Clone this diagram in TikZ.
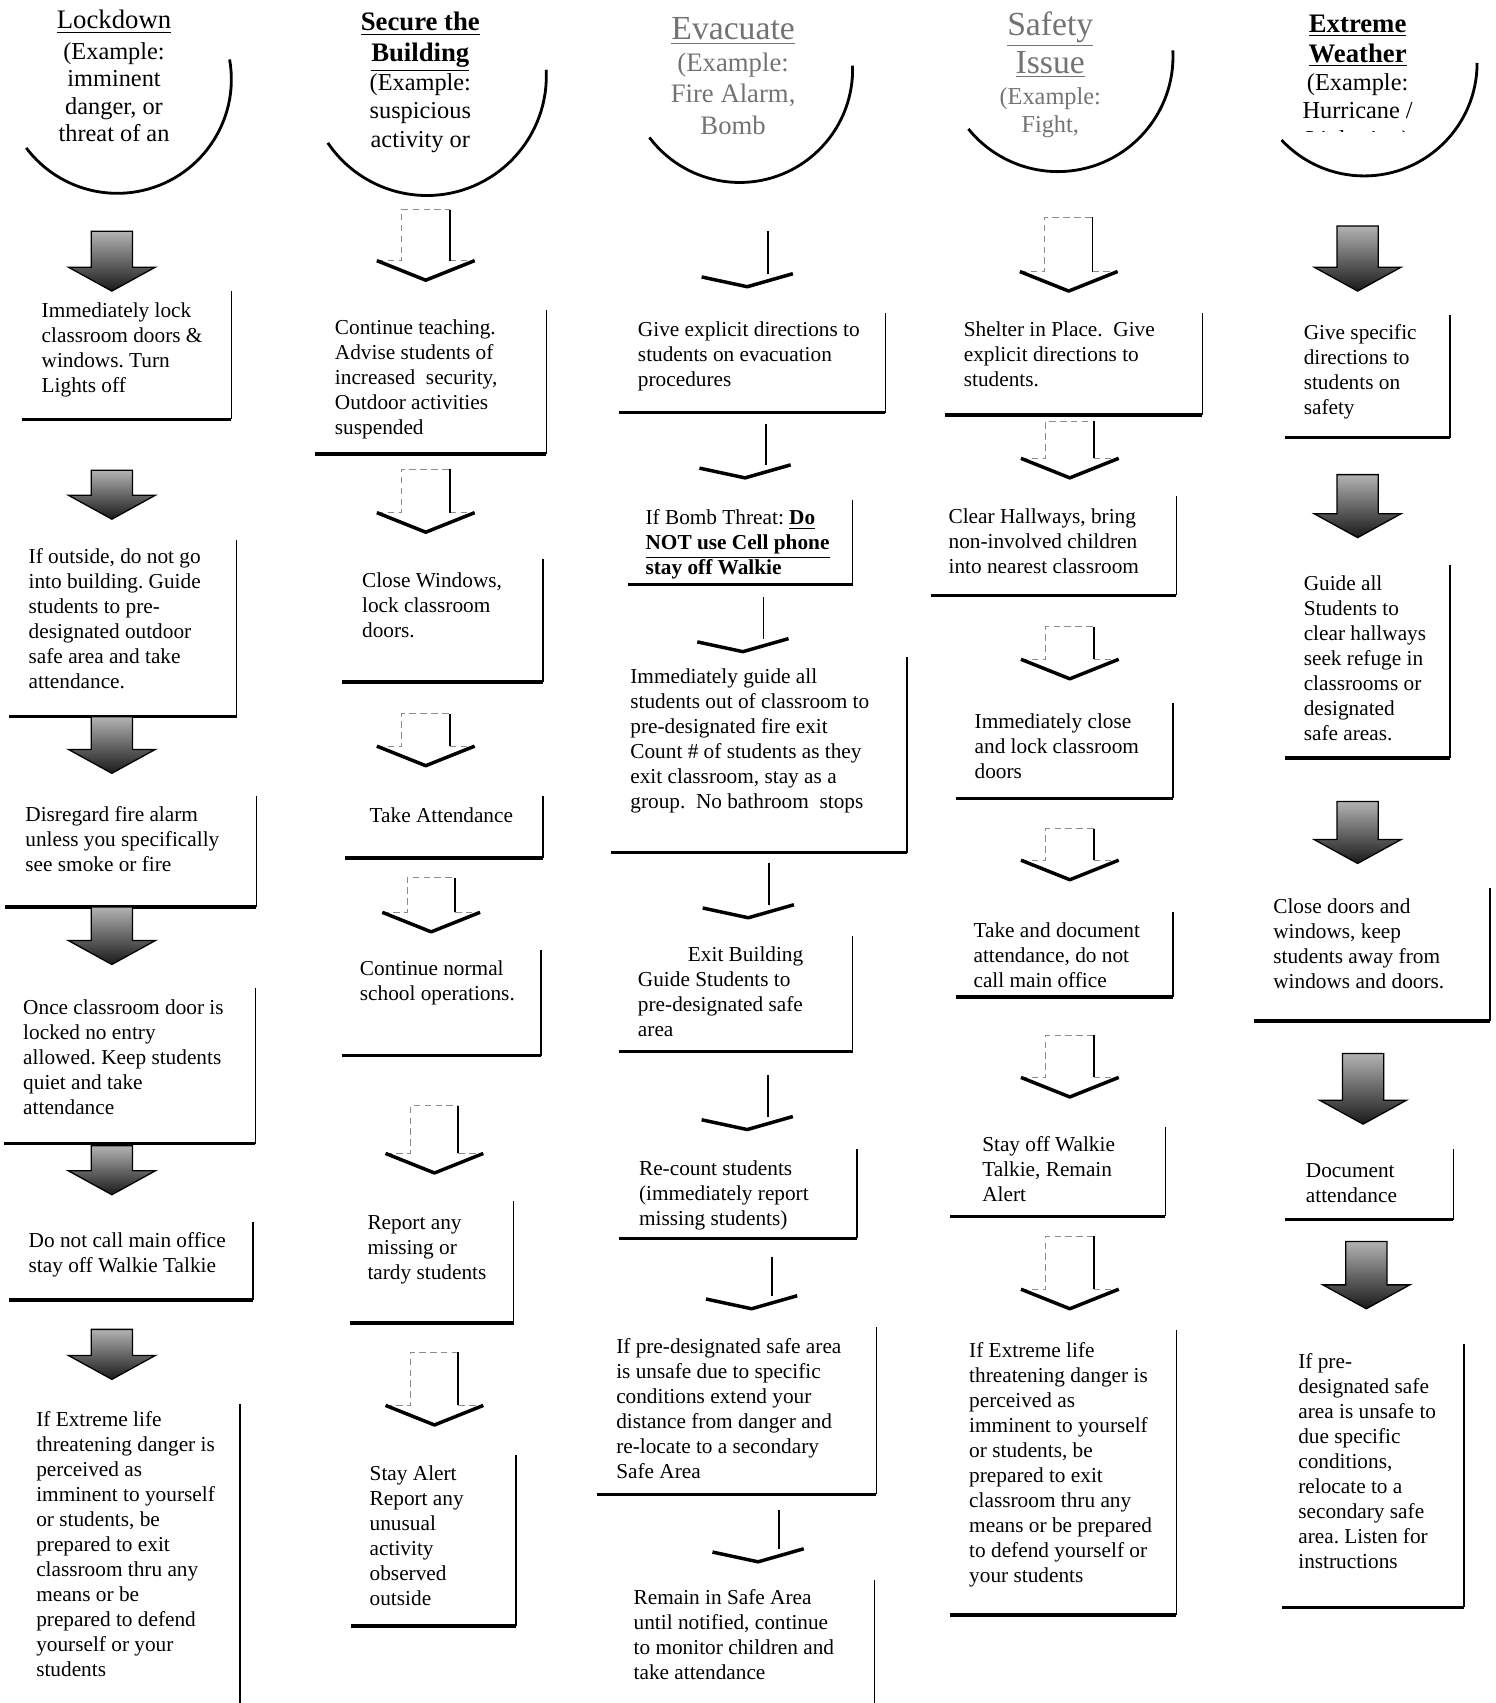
\documentclass[tikz,border=0pt]{standalone}
\usepackage{fontspec}
\setmainfont{Liberation Serif}
\lineskiplimit=-30pt
\frenchspacing

\begin{document}
\begin{tikzpicture}[x=0.5pt,y=-0.5pt,
  txt/.style={anchor=north west, align=left, inner sep=0pt, yshift=-1.5pt, font=\fontsize{9.8}{11.5}\selectfont},
  headtxt/.style={anchor=north, align=center, inner sep=0pt},
  side/.style={line width=0.6pt},
  shelf/.style={line width=1.5pt},
  rim/.style={line width=1.3pt},
  solidarrow/.style={draw=black, line width=0.6pt, top color=black!30, bottom color=black!90},
  ghost/.style={draw=black!45, densely dashed, line width=0.4pt},
  stem/.style={line width=0.8pt},
  chevron/.style={line width=1.6pt, line join=round}]
\useasboundingbox (0,0) rectangle (1377,1568);

% headers
\node[headtxt, font=\fontsize{11.2}{12.7}\selectfont] (h1) at (105,9)
  {{\fontsize{12.3}{12.7}\selectfont\underline{Lockdown}}\\[1.3pt](Example:\\imminent\\danger, or\\threat of an};
\node[headtxt, font=\fontsize{11.2}{13}\selectfont] (h2) at (387,11)
  {{\fontsize{12.3}{13}\selectfont\bfseries\underline{Secure the}}\\[1pt]{\fontsize{12.3}{13}\selectfont\bfseries\underline{Building}}\\[0.5pt](Example:\\suspicious\\activity or};
\node[headtxt, text=black!55, font=\fontsize{12.3}{14.5}\selectfont] (h3) at (675,16)
  {{\fontsize{15.5}{14.5}\selectfont\underline{Evacuate}}\\(Example:\\Fire Alarm,\\Bomb};
\node[headtxt, text=black!55, font=\fontsize{11.2}{13}\selectfont] (h4) at (967,10)
  {{\fontsize{15.5}{13}\selectfont\underline{Safety}}\\[4.5pt]{\fontsize{15.5}{13}\selectfont\underline{Issue}}\\[1.5pt](Example:\\Fight,};
\begin{scope}
\clip (1150,0) rectangle (1377,121);
\node[headtxt, font=\fontsize{11.2}{13}\selectfont] (h5) at (1250,13)
  {{\fontsize{12.3}{13}\selectfont\bfseries\underline{Extreme}}\\[1pt]{\fontsize{12.3}{13}\selectfont\bfseries\underline{Weather}}\\(Example:\\Hurricane /\\Lightning)};
\end{scope}

\coordinate (c1) at (108,73);
\coordinate (c2) at (393,70);
\coordinate (c3) at (681,64);
\coordinate (c4) at (974,52);
\coordinate (c5) at (1256,58);
\draw[rim] (c1) ++(-10:105) arc[start angle=-10, end angle=143, radius=105];
\draw[rim] (c2) ++(-3:110) arc[start angle=-3, end angle=146, radius=110];
\draw[rim] (c3) ++(-2:104) arc[start angle=-2, end angle=143, radius=104];
\draw[rim] (c4) ++(-3:106) arc[start angle=-3, end angle=141, radius=106];
\draw[rim] (c5) ++(0:104) arc[start angle=0, end angle=137, radius=104];

% Lockdown
\node[txt] (lk1) at (38,275) {Immediately lock\\classroom doors \&\\windows. Turn\\Lights off};
\draw[side] (213,268) -- (213,386); \draw[shelf] (20,386) -- (213,386);
\node[txt] (lk2) at (26,502) {If outside, do not go\\into building. Guide\\students to pre-\\designated outdoor\\safe area and take\\attendance.};
\draw[side] (218,497) -- (218,660); \draw[shelf] (8,660) -- (218,660);
\node[txt] (lk3) at (23,739) {Disregard fire alarm\\unless you specifically\\see smoke or fire};
\draw[side] (236,733) -- (236,835); \draw[shelf] (5,835) -- (236,835);
\node[txt] (lk4) at (21,917) {Once classroom door is\\locked no entry\\allowed. Keep students\\quiet and take\\attendance};
\draw[side] (235,910) -- (235,1053); \draw[shelf] (4,1053) -- (235,1053);
\node[txt] (lk5) at (26,1131) {Do not call main office\\stay off Walkie Talkie};
\draw[side] (233,1125) -- (233,1197); \draw[shelf] (8,1197) -- (233,1197);
\node[txt] (lk6) at (33,1296) {If Extreme life\\threatening danger is\\perceived as\\imminent to yourself\\or students, be\\prepared to exit\\classroom thru any\\means or be\\prepared to defend\\yourself or your\\students};
\draw[side] (221,1293) -- (221,1568);

% Secure the Building
\node[txt] (sb1) at (308,291) {Continue teaching.\\Advise students of\\increased\ \ security,\\Outdoor activities\\suspended};
\draw[side] (503,285) -- (503,418); \draw[shelf] (290,418) -- (503,418);
\node[txt] (sb2) at (333,524) {Close Windows,\\lock classroom\\doors.};
\draw[side] (500,515) -- (500,628); \draw[shelf] (315,628) -- (500,628);
\node[txt] (sb3) at (340,740) {Take Attendance};
\draw[side] (500,733) -- (500,790); \draw[shelf] (318,790) -- (500,790);
\node[txt] (sb4) at (331,881) {Continue normal\\school operations.};
\draw[side] (498,875) -- (498,972); \draw[shelf] (315,972) -- (498,972);
\node[txt] (sb5) at (338,1116) {Report any\\missing or\\tardy students};
\draw[side] (473,1106) -- (473,1218); \draw[shelf] (322,1218) -- (473,1218);
\node[txt] (sb6) at (340,1346) {Stay Alert\\Report any\\unusual\\activity\\observed\\outside};
\draw[side] (475,1340) -- (475,1497); \draw[shelf] (323,1497) -- (475,1497);

% Evacuate
\node[txt] (ev1) at (587,293) {Give explicit directions to\\students on evacuation\\procedures};
\draw[side] (815,288) -- (815,380); \draw[shelf] (570,380) -- (815,380);
\node[txt] (ev2) at (594,466) {If Bomb Threat: \underline{\textbf{Do}}\\\underline{\textbf{NOT use Cell phone}}\\\textbf{stay off Walkie}};
\draw[side] (785,460) -- (785,538); \draw[shelf] (578,538) -- (785,538);
\node[txt] (ev3) at (580,612) {Immediately guide all\\students out of classroom to\\pre-designated fire exit\\Count \# of students as they\\exit classroom, stay as a\\group.\ \ No bathroom\ \ stops};
\draw[side] (835,605) -- (835,785); \draw[shelf] (563,785) -- (835,785);
\node[txt] (ev4) at (587,868) {\hspace*{23pt}Exit Building\\Guide Students to\\pre-designated safe\\area};
\draw[side] (785,862) -- (785,968); \draw[shelf] (570,968) -- (785,968);
\node[txt] (ev5) at (588,1065) {Re-count students\\(immediately report\\missing students)};
\draw[side] (789,1058) -- (789,1140); \draw[shelf] (570,1140) -- (789,1140);
\node[txt] (ev6) at (567,1229) {If pre-designated safe area\\is unsafe due to specific\\conditions extend your\\distance from danger and\\re-locate to a secondary\\Safe Area};
\draw[side] (807,1222) -- (807,1376); \draw[shelf] (550,1376) -- (807,1376);
\node[txt] (ev7) at (583,1460) {Remain in Safe Area\\until notified, continue\\to monitor children and\\take attendance};
\draw[side] (805,1455) -- (805,1568);

% Safety Issue
\node[txt] (si1) at (887,293) {Shelter in Place.\ \ Give\\explicit directions to\\students.};
\draw[side] (1107,288) -- (1107,382); \draw[shelf] (870,382) -- (1107,382);
\node[txt] (si2) at (873,465) {Clear Hallways, bring\\non-involved children\\into nearest classroom};
\draw[side] (1083,457) -- (1083,548); \draw[shelf] (857,548) -- (1083,548);
\node[txt] (si3) at (897,654) {Immediately close\\and lock classroom\\doors};
\draw[side] (1080,647) -- (1080,735); \draw[shelf] (880,735) -- (1080,735);
\node[txt] (si4) at (896,846) {Take and document\\attendance, do not\\call main office};
\draw[side] (1080,840) -- (1080,918); \draw[shelf] (880,918) -- (1080,918);
\node[txt] (si5) at (904,1043) {Stay off Walkie\\Talkie, Remain\\Alert};
\draw[side] (1073,1038) -- (1073,1120); \draw[shelf] (875,1120) -- (1073,1120);
\node[txt] (si6) at (892,1233) {If Extreme life\\threatening danger is\\perceived as\\imminent to yourself\\or students, be\\prepared to exit\\classroom thru any\\means or be prepared\\to defend yourself or\\your students};
\draw[side] (1083,1225) -- (1083,1487); \draw[shelf] (875,1487) -- (1083,1487);

% Extreme Weather
\node[txt] (ew1) at (1200,295) {Give specific\\directions to\\students on\\safety};
\draw[side] (1335,290) -- (1335,403); \draw[shelf] (1183,403) -- (1335,403);
\node[txt] (ew2) at (1200,527) {Guide all\\Students to\\clear hallways\\seek refuge in\\classrooms or\\designated\\safe areas.};
\draw[side] (1335,520) -- (1335,698); \draw[shelf] (1183,698) -- (1335,698);
\node[txt] (ew3) at (1172,824) {Close doors and\\windows, keep\\students away from\\windows and doors.};
\draw[side] (1372,818) -- (1372,940); \draw[shelf] (1155,940) -- (1372,940);
\node[txt] (ew4) at (1202,1068) {Document\\attendance};
\draw[side] (1338,1058) -- (1338,1123); \draw[shelf] (1183,1123) -- (1338,1123);
\node[txt] (ew5) at (1195,1243) {If pre-\\designated safe\\area is unsafe to\\due specific\\conditions,\\relocate to a\\secondary safe\\area. Listen for\\instructions};
\draw[side] (1348,1237) -- (1348,1480); \draw[shelf] (1180,1480) -- (1348,1480);

% arrows
\foreach \c/\t/\p in {103/213/268,103/433/478,103/660/712,103/835/888,103/1055/1100,103/1224/1270,
                      1250/208/268,1250/437/495,1250/738/795,1255/970/1035,1258/1143/1205}
  \draw[solidarrow] (\c-19,\t) -- (\c+19,\t) -- (\c+19,\p-22) -- (\c+40,\p-22) -- (\c,\p)
    -- (\c-40,\p-22) -- (\c-19,\p-22) -- cycle;
\foreach \c/\t/\p in {392/193/258,392/432/490,392/657/705,397/808/858,400/1018/1080,400/1245/1312,
                      984/200/268,985/388/440,985/577/625,985/763/810,985/953/1010,985/1138/1205} {
  \draw[ghost] (\c-45,\p-18) -- (\c-22,\p-18) -- (\c-22,\t) -- (\c+22,\t);
  \draw[ghost] (\c+22,\p-18) -- (\c+45,\p-18);
  \draw[stem] (\c+22,\t) -- (\c+22,\p-18);
  \draw[chevron] (\c-45,\p-18) -- (\c,\p) -- (\c+45,\p-18);
}
\foreach \c/\t/\p in {688/213/264,686/390/440,684/550/600,689/795/845,688/990/1040,692/1157/1205,698/1390/1438} {
  \draw[stem] (\c+19,\t) -- (\c+19,\p-12);
  \draw[chevron] (\c-42,\p-9) -- (\c,\p) -- (\c+42,\p-12);
}
\end{tikzpicture}
\end{document}
